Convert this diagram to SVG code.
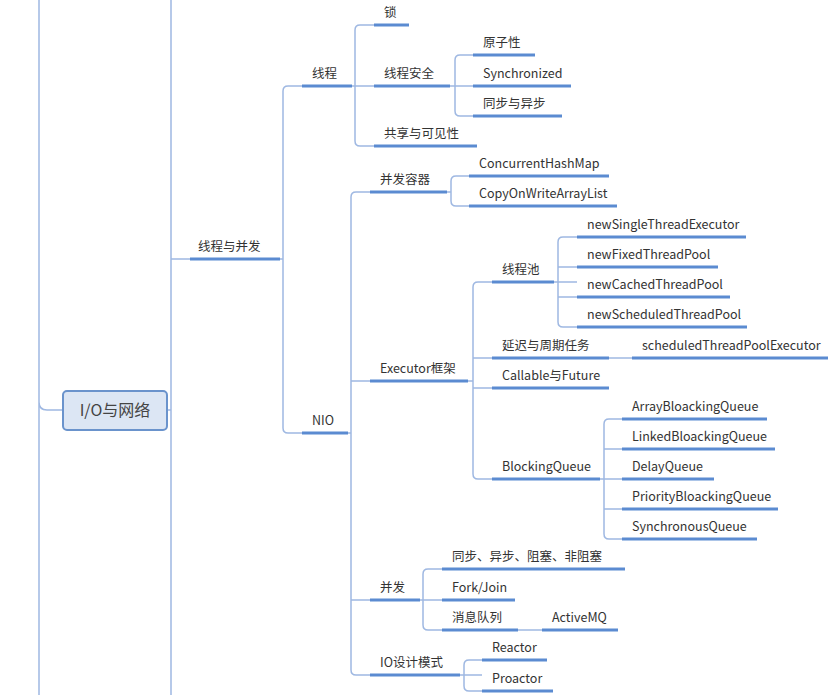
<svg xmlns="http://www.w3.org/2000/svg" width="833" height="695" viewBox="0 0 833 695">
<style>
.c{fill:none;stroke:#9fb8e2;stroke-width:1.5}
.u{stroke:#5b8bd1;stroke-width:3}
text{font-family:"Noto Sans CJK SC","Open Sans",sans-serif;font-size:12.5px;fill:#333}
.r{font-size:16px;fill:#444}
</style>
<rect width="833" height="695" fill="#fff"/>
<g id="connectors">
<path class="c" d="M39 0V695M39 402Q39 410 47 410H63"/>
<path class="c" d="M171 0V695M167 410H171M171 259H190"/>
<path class="c" d="M280 259H283M302 86H288Q283 86 283 91V428Q283 433 288 433H302"/>
<path class="c" d="M352 86H374M374 25H360Q355 25 355 30V141Q355 146 360 146H374"/>
<path class="c" d="M450 86H473M473 55H460Q455 55 455 60V111Q455 116 460 116H473"/>
<path class="c" d="M348 433H351M370 192H356Q351 192 351 197V670Q351 675 356 675H370M351 381H370M351 600H370"/>
<path class="c" d="M447 192H451M469 176H456Q451 176 451 181V201Q451 206 456 206H469"/>
<path class="c" d="M468 381H473M492 282H478Q473 282 473 287V474Q473 479 478 479H492M473 358H492M473 388H492"/>
<path class="c" d="M554 282H577M577 237H563Q558 237 558 242V322Q558 327 563 327H577M558 267H577M558 297H577"/>
<path class="c" d="M609 358H632"/>
<path class="c" d="M600 479H622M622 419H609Q604 419 604 424V534Q604 539 609 539H622M604 449H622M604 509H622"/>
<path class="c" d="M420 600H442M442 569H428Q423 569 423 574V625Q423 630 428 630H442"/>
<path class="c" d="M518 630H542"/>
<path class="c" d="M460 675H482M482 660H469Q464 660 464 665V686Q464 691 469 691H482"/>
</g>
<g id="root"><rect x="63" y="391" width="104" height="39" rx="4" fill="#dce6f4" stroke="#6a93cc" stroke-width="2"/><text class="r" x="115" y="416" text-anchor="middle">I/O与网络</text></g>
<g id="n1"><line class="u" x1="190" y1="259" x2="280" y2="259"/><text x="198" y="251">线程与并发</text></g>
<g id="n2"><line class="u" x1="302" y1="86" x2="352" y2="86"/><text x="312" y="78">线程</text></g>
<g id="n3"><line class="u" x1="302" y1="433" x2="348" y2="433"/><text x="312" y="425">NIO</text></g>
<g id="n4"><line class="u" x1="374" y1="25" x2="409" y2="25"/><text x="384" y="17">锁</text></g>
<g id="n5"><line class="u" x1="374" y1="86" x2="450" y2="86"/><text x="384" y="78">线程安全</text></g>
<g id="n6"><line class="u" x1="374" y1="146" x2="477" y2="146"/><text x="384" y="138">共享与可见性</text></g>
<g id="n7"><line class="u" x1="473" y1="55" x2="535" y2="55"/><text x="483" y="47">原子性</text></g>
<g id="n8"><line class="u" x1="473" y1="86" x2="571" y2="86"/><text x="483" y="78">Synchronized</text></g>
<g id="n9"><line class="u" x1="473" y1="116" x2="562" y2="116"/><text x="483" y="108">同步与异步</text></g>
<g id="n10"><line class="u" x1="370" y1="192" x2="447" y2="192"/><text x="380" y="184">并发容器</text></g>
<g id="n11"><line class="u" x1="469" y1="176" x2="609" y2="176"/><text x="479" y="168">ConcurrentHashMap</text></g>
<g id="n12"><line class="u" x1="469" y1="206" x2="617" y2="206"/><text x="479" y="198">CopyOnWriteArrayList</text></g>
<g id="n13"><line class="u" x1="370" y1="381" x2="468" y2="381"/><text x="380" y="373">Executor框架</text></g>
<g id="n14"><line class="u" x1="492" y1="282" x2="554" y2="282"/><text x="502" y="274">线程池</text></g>
<g id="n15"><line class="u" x1="577" y1="237" x2="746" y2="237"/><text x="587" y="229">newSingleThreadExecutor</text></g>
<g id="n16"><line class="u" x1="577" y1="267" x2="718" y2="267"/><text x="587" y="259">newFixedThreadPool</text></g>
<g id="n17"><line class="u" x1="577" y1="297" x2="730" y2="297"/><text x="587" y="289">newCachedThreadPool</text></g>
<g id="n18"><line class="u" x1="577" y1="327" x2="747" y2="327"/><text x="587" y="319">newScheduledThreadPool</text></g>
<g id="n19"><line class="u" x1="492" y1="358" x2="609" y2="358"/><text x="502" y="350">延迟与周期任务</text></g>
<g id="n20"><line class="u" x1="632" y1="358" x2="828" y2="358"/><text x="642" y="350">scheduledThreadPoolExecutor</text></g>
<g id="n21"><line class="u" x1="492" y1="388" x2="609" y2="388"/><text x="502" y="380">Callable与Future</text></g>
<g id="n22"><line class="u" x1="492" y1="479" x2="600" y2="479"/><text x="502" y="471">BlockingQueue</text></g>
<g id="n23"><line class="u" x1="622" y1="419" x2="767" y2="419"/><text x="632" y="411">ArrayBloackingQueue</text></g>
<g id="n24"><line class="u" x1="622" y1="449" x2="775" y2="449"/><text x="632" y="441">LinkedBloackingQueue</text></g>
<g id="n25"><line class="u" x1="622" y1="479" x2="714" y2="479"/><text x="632" y="471">DelayQueue</text></g>
<g id="n26"><line class="u" x1="622" y1="509" x2="778" y2="509"/><text x="632" y="501">PriorityBloackingQueue</text></g>
<g id="n27"><line class="u" x1="622" y1="539" x2="757" y2="539"/><text x="632" y="531">SynchronousQueue</text></g>
<g id="n28"><line class="u" x1="370" y1="600" x2="420" y2="600"/><text x="380" y="592">并发</text></g>
<g id="n29"><line class="u" x1="442" y1="569" x2="625" y2="569"/><text x="452" y="561">同步、异步、阻塞、非阻塞</text></g>
<g id="n30"><line class="u" x1="442" y1="600" x2="515" y2="600"/><text x="452" y="592">Fork/Join</text></g>
<g id="n31"><line class="u" x1="442" y1="630" x2="518" y2="630"/><text x="452" y="622">消息队列</text></g>
<g id="n32"><line class="u" x1="542" y1="630" x2="618" y2="630"/><text x="552" y="622">ActiveMQ</text></g>
<g id="n33"><line class="u" x1="370" y1="675" x2="460" y2="675"/><text x="380" y="667">IO设计模式</text></g>
<g id="n34"><line class="u" x1="482" y1="660" x2="547" y2="660"/><text x="492" y="652">Reactor</text></g>
<g id="n35"><line class="u" x1="482" y1="691" x2="553" y2="691"/><text x="492" y="683">Proactor</text></g>
</svg>
